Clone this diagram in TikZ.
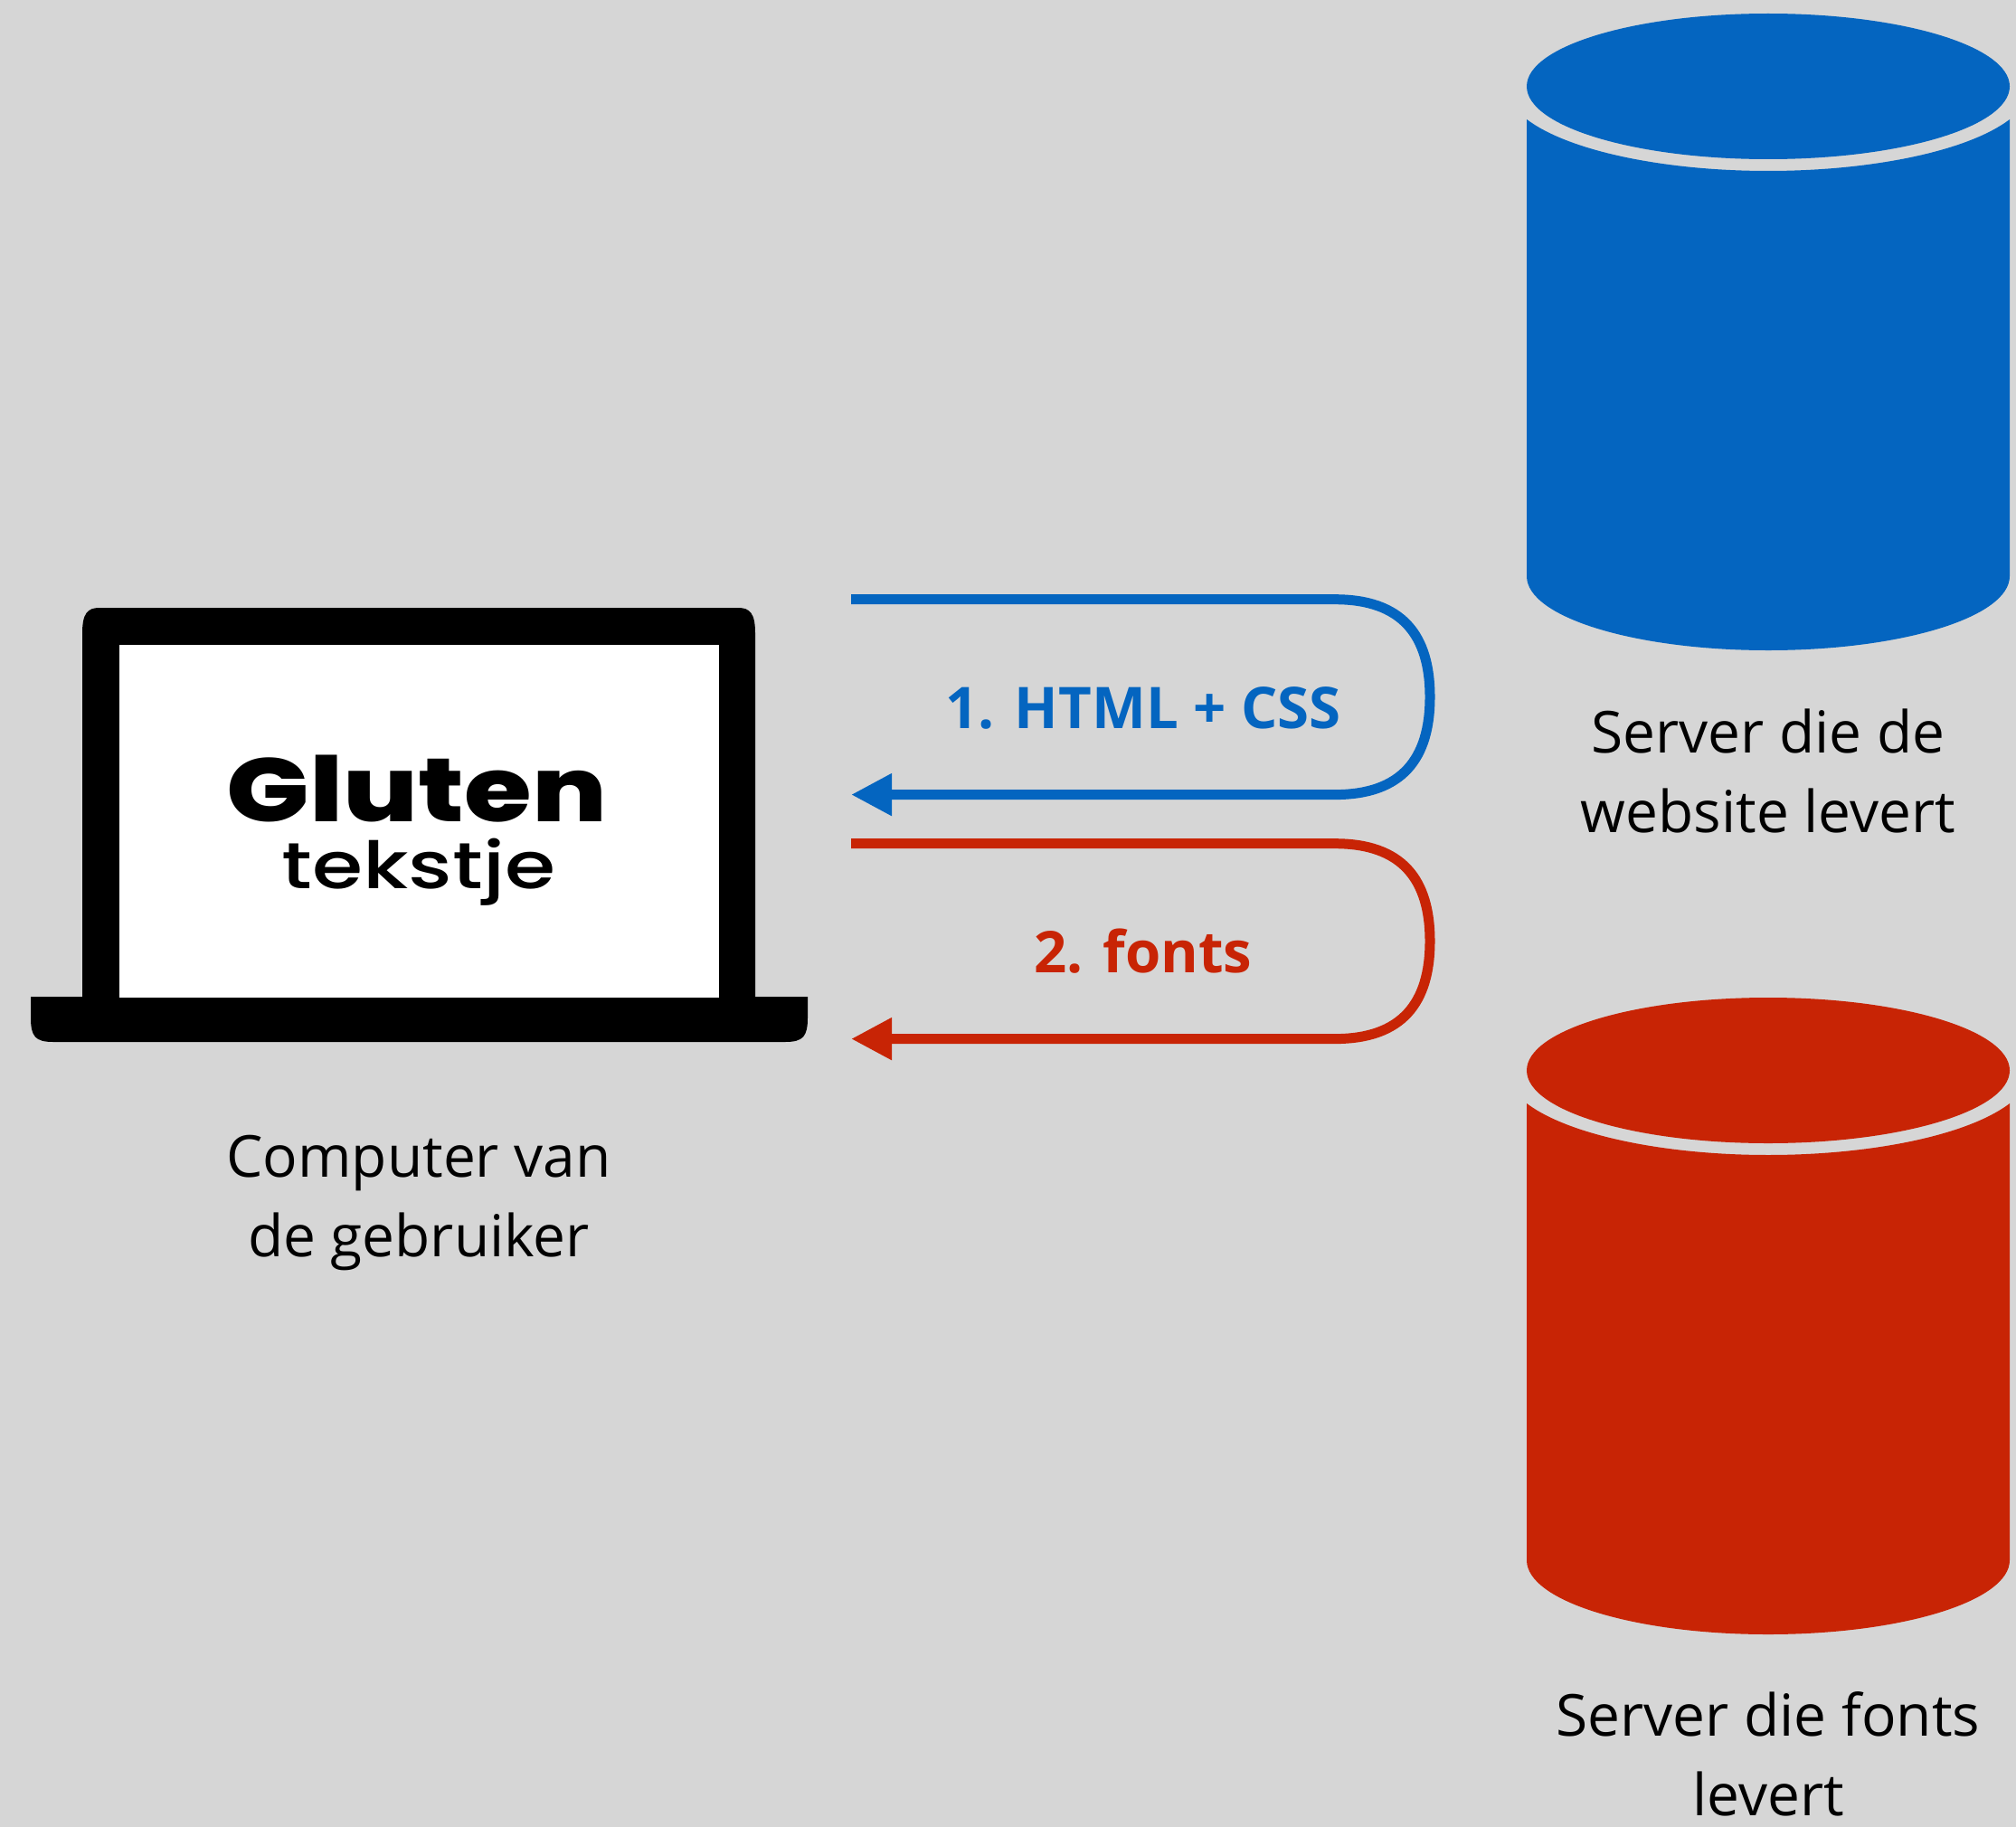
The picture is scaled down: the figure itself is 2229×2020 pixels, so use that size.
\documentclass[tikz,border=0pt]{standalone}
\usepackage{fontspec}
\setmainfont{Open Sans}
\newfontfamily\glutenfont{Poppins}
\newfontfamily\glutenheavy{Poppins ExtraBold}
\newfontfamily\glutenmid{Poppins Medium}
\usetikzlibrary{arrows.meta}
\definecolor{bgc}{RGB}{214,214,214}
\definecolor{blu}{RGB}{4,101,192}
\definecolor{rd}{RGB}{200,36,5}
\tikzset{
  label/.style={font=\fontsize{64}{88}\selectfont, text=black, anchor=base, inner sep=0pt},
  steplabel/.style={font=\fontsize{63.5}{88}\selectfont\bfseries, anchor=base, inner sep=0pt},
  flow/.style={line width=11pt, -{Triangle[length=45pt,width=44pt,inset=0pt]}},
  pics/dbase/.style={code={
    \fill[#1] (1955,95.5) ellipse [x radius=267, y radius=80.5];
    \fill[#1] (2222,132) arc[start angle=23, end angle=157, x radius=290, y radius=93.5]
      -- (1688,637) arc[start angle=180, end angle=360, x radius=267, y radius=-82]
      -- cycle;
  }}
}
\begin{document}
\begin{tikzpicture}[x=1pt,y=-1pt]
\path[use as bounding box, fill=bgc] (0,0) rectangle (2229,2020);
% laptop
\fill[black] (34,1102) -- (91,1102) -- (91,700) .. controls (91,678) and (97,672) .. (110,672)
  -- (816,672) .. controls (829,672) and (835,678) .. (835,700) -- (835,1102) -- (893,1102)
  -- (893,1125) .. controls (893,1146) and (888,1152) .. (868,1152)
  -- (59,1152) .. controls (39,1152) and (34,1146) .. (34,1125) -- cycle;
\fill[white] (132,713) rectangle (795,1103);
\node[inner sep=0pt, anchor=base] (gluten) at (461,908) {\scalebox{1.12}[0.92]{\glutenheavy\fontsize{108}{120}\selectfont Gluten}};
\node[inner sep=0pt, anchor=base] (tekstje) at (463,982) {\scalebox{1.26}[1]{\glutenmid\fontsize{72}{80}\selectfont tekstje}};
\node[label] (comp1) at (463,1301) {Computer van};
\node[label] (comp2) at (463,1389) {de gebruiker};
% servers
\pic {dbase=blu};
\pic[yshift=-1088pt] {dbase=rd};
\node[label] (web1) at (1955,832) {Server die de};
\node[label] (web2) at (1955,920) {website levert};
\node[label] (font1) at (1955,1919) {Server die fonts};
\node[label] (font2) at (1955,2007) {levert};
% connectors
\coordinate (bs) at (941,662.7);
\coordinate (be) at (941,878.6);
\coordinate (rs) at (941,932.7);
\coordinate (re) at (941,1148.6);
\draw[flow, blu] (bs) -- (1476,662.7) .. controls (1550,662.7) and (1581,702) .. (1581,770.6)
  .. controls (1581,839) and (1550,878.6) .. (1476,878.6) -- (be);
\draw[flow, rd] (rs) -- (1476,932.7) .. controls (1550,932.7) and (1581,972) .. (1581,1040.6)
  .. controls (1581,1109) and (1550,1148.6) .. (1476,1148.6) -- (re);
\node[steplabel, text=blu] (l1) at (1264,805) {1. HTML + CSS};
\node[steplabel, text=rd] (l2) at (1264,1075) {2. fonts};
\end{tikzpicture}
\end{document}
